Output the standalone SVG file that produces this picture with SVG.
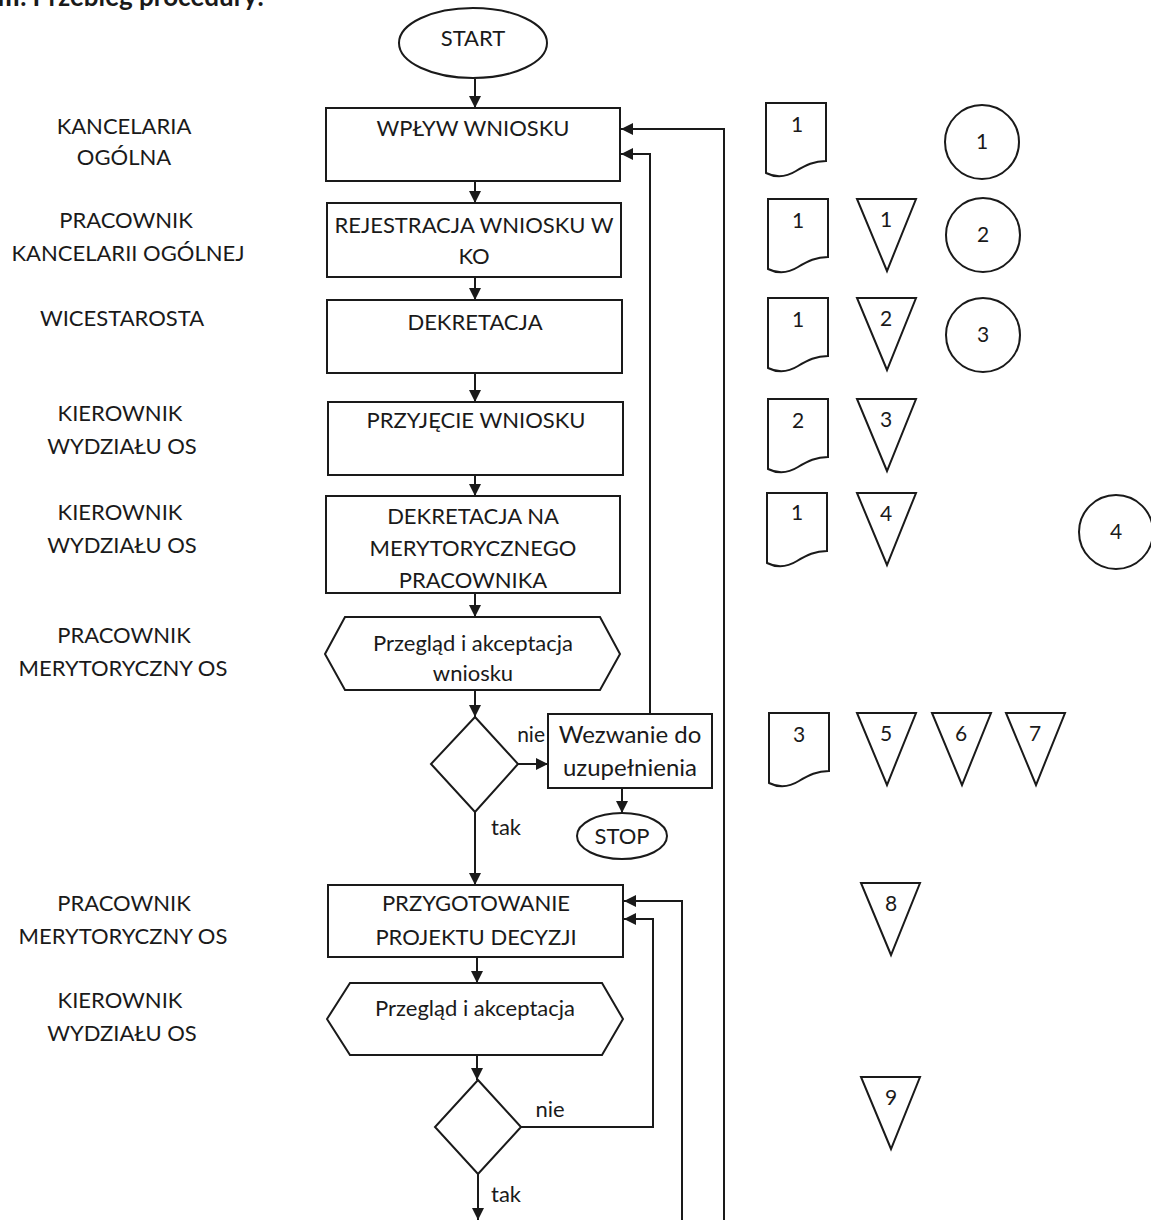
<svg xmlns="http://www.w3.org/2000/svg" width="1151" height="1220" viewBox="0 0 1151 1220">
<style>
text{font-family:Lato,"Liberation Sans",sans-serif;font-size:22px;fill:#1a1a1a;text-anchor:middle}
.s{fill:#fff;stroke:#1a1a1a;stroke-width:2}
.c{fill:none;stroke:#1a1a1a;stroke-width:2}
.w{font-size:24px}
.n{font-size:21px}
.ne{font-size:21px;text-anchor:end}
.h{font-weight:bold;font-size:26px;text-anchor:start}
</style>
<defs>
<marker id="a" markerUnits="userSpaceOnUse" markerWidth="12" markerHeight="12" viewBox="0 0 12 12" refX="12" refY="6" orient="auto">
<path d="M0,0 L12,6 L0,12 z" fill="#1a1a1a"/>
</marker>
<path id="doc" d="M0,0 H60 V58 C48,58 40,62 30,68 C22,73 12,76 0,70 Z"/>
<path id="tri" d="M0,0 H59 L30,72 Z"/>
</defs>
<rect width="1151" height="1220" fill="#fff"/>
<text class="h" x="-3" y="6">III. Przebieg procedury:</text>

<g id="lanes">
<text x="124" y="134">KANCELARIA</text>
<text x="124" y="165">OGÓLNA</text>
<text x="126" y="228">PRACOWNIK</text>
<text x="128" y="261">KANCELARII OGÓLNEJ</text>
<text x="122" y="326">WICESTAROSTA</text>
<text x="120" y="421">KIEROWNIK</text>
<text x="122" y="454">WYDZIAŁU OS</text>
<text x="120" y="520">KIEROWNIK</text>
<text x="122" y="553">WYDZIAŁU OS</text>
<text x="124" y="643">PRACOWNIK</text>
<text x="123" y="676">MERYTORYCZNY OS</text>
<text x="124" y="911">PRACOWNIK</text>
<text x="123" y="944">MERYTORYCZNY OS</text>
<text x="120" y="1008">KIEROWNIK</text>
<text x="122" y="1041">WYDZIAŁU OS</text>
</g>

<g id="connectors">
<line class="c" x1="475" y1="79" x2="475" y2="108" marker-end="url(#a)"/>
<line class="c" x1="475" y1="181" x2="475" y2="203" marker-end="url(#a)"/>
<line class="c" x1="475" y1="277" x2="475" y2="300" marker-end="url(#a)"/>
<line class="c" x1="475" y1="373" x2="475" y2="402" marker-end="url(#a)"/>
<line class="c" x1="475" y1="475" x2="475" y2="496" marker-end="url(#a)"/>
<line class="c" x1="475" y1="593" x2="475" y2="617" marker-end="url(#a)"/>
<line class="c" x1="475" y1="690" x2="475" y2="717" marker-end="url(#a)"/>
<line class="c" x1="518" y1="764" x2="548" y2="764" marker-end="url(#a)"/>
<line class="c" x1="622" y1="788" x2="622" y2="813" marker-end="url(#a)"/>
<polyline class="c" points="650,714 650,154 621,154" marker-end="url(#a)"/>
<polyline class="c" points="724,1220 724,129 621,129" marker-end="url(#a)"/>
<line class="c" x1="475" y1="812" x2="475" y2="885" marker-end="url(#a)"/>
<line class="c" x1="477" y1="957" x2="477" y2="983" marker-end="url(#a)"/>
<line class="c" x1="477" y1="1055" x2="477" y2="1080" marker-end="url(#a)"/>
<polyline class="c" points="521,1127 653,1127 653,919 624,919" marker-end="url(#a)"/>
<polyline class="c" points="682,1220 682,901 624,901" marker-end="url(#a)"/>
<line class="c" x1="478" y1="1174" x2="478" y2="1220" marker-end="url(#a)"/>
<text class="ne" x="545" y="742">nie</text>
<text x="506" y="835">tak</text>
<text x="550" y="1117">nie</text>
<text x="506" y="1202">tak</text>
</g>

<g id="start"><ellipse class="s" cx="473" cy="43" rx="74" ry="35"/><text x="473" y="46">START</text></g>
<g id="wplyw"><rect class="s" x="326" y="108" width="294" height="73"/><text x="473" y="136">WPŁYW WNIOSKU</text></g>
<g id="rejestracja"><rect class="s" x="327" y="203" width="294" height="74"/><text x="474" y="233">REJESTRACJA WNIOSKU W</text><text x="474" y="264">KO</text></g>
<g id="dekretacja"><rect class="s" x="327" y="300" width="295" height="73"/><text x="475" y="330">DEKRETACJA</text></g>
<g id="przyjecie"><rect class="s" x="328" y="402" width="295" height="73"/><text x="476" y="428">PRZYJĘCIE WNIOSKU</text></g>
<g id="dekretacja-na"><rect class="s" x="326" y="496" width="294" height="97"/><text x="473" y="524">DEKRETACJA NA</text><text x="473" y="556">MERYTORYCZNEGO</text><text x="473" y="588">PRACOWNIKA</text></g>
<g id="przeglad1"><polygon class="s" points="325,654 345,617 600,617 620,654 600,690 345,690"/><text x="473" y="651">Przegląd i akceptacja</text><text x="473" y="681">wniosku</text></g>
<g id="decyzja1"><polygon class="s" points="475,717 518,764 475,812 431,764"/></g>
<g id="wezwanie"><rect class="s" x="548" y="714" width="164" height="74"/><text class="w" x="630" y="743">Wezwanie do</text><text class="w" x="630" y="776">uzupełnienia</text></g>
<g id="stop"><ellipse class="s" cx="622" cy="836" rx="45" ry="23"/><text x="622" y="844">STOP</text></g>
<g id="przygotowanie"><rect class="s" x="328" y="885" width="295" height="72"/><text x="476" y="911">PRZYGOTOWANIE</text><text x="476" y="945">PROJEKTU DECYZJI</text></g>
<g id="przeglad2"><polygon class="s" points="327,1019 350,983 602,983 623,1019 602,1055 350,1055"/><text x="475" y="1016">Przegląd i akceptacja</text></g>
<g id="decyzja2"><polygon class="s" points="478,1080 521,1127 478,1174 435,1127"/></g>

<g id="docs">
<g id="d1" transform="translate(766,103)"><use href="#doc" class="s"/><text class="n" x="31" y="29">1</text></g>
<g id="d2" transform="translate(768,199)"><use href="#doc" class="s"/><text class="n" x="30" y="29">1</text></g>
<g id="d3" transform="translate(768,298)"><use href="#doc" class="s"/><text class="n" x="30" y="29">1</text></g>
<g id="d4" transform="translate(768,399)"><use href="#doc" class="s"/><text class="n" x="30" y="29">2</text></g>
<g id="d5" transform="translate(767,493)"><use href="#doc" class="s"/><text class="n" x="30" y="27">1</text></g>
<g id="d6" transform="translate(769,713)"><use href="#doc" class="s"/><text class="n" x="30" y="29">3</text></g>
</g>
<g id="triangles">
<g id="t1" transform="translate(857,199)"><use href="#tri" class="s"/><text class="n" x="29" y="28">1</text></g>
<g id="t2" transform="translate(857,298)"><use href="#tri" class="s"/><text class="n" x="29" y="28">2</text></g>
<g id="t3" transform="translate(857,399)"><use href="#tri" class="s"/><text class="n" x="29" y="28">3</text></g>
<g id="t4" transform="translate(857,493)"><use href="#tri" class="s"/><text class="n" x="29" y="28">4</text></g>
<g id="t5" transform="translate(857,713)"><use href="#tri" class="s"/><text class="n" x="29" y="28">5</text></g>
<g id="t6" transform="translate(932,713)"><use href="#tri" class="s"/><text class="n" x="29" y="28">6</text></g>
<g id="t7" transform="translate(1006,713)"><use href="#tri" class="s"/><text class="n" x="29" y="28">7</text></g>
<g id="t8" transform="translate(861,883)"><use href="#tri" class="s"/><text class="n" x="30" y="28">8</text></g>
<g id="t9" transform="translate(861,1077)"><use href="#tri" class="s"/><text class="n" x="30" y="28">9</text></g>
</g>
<g id="circles">
<g id="c1"><circle class="s" cx="982" cy="142" r="37"/><text class="n" x="982" y="149">1</text></g>
<g id="c2"><circle class="s" cx="983" cy="235" r="37"/><text class="n" x="983" y="242">2</text></g>
<g id="c3"><circle class="s" cx="983" cy="335" r="37"/><text class="n" x="983" y="342">3</text></g>
<g id="c4"><circle class="s" cx="1116" cy="532" r="37"/><text class="n" x="1116" y="539">4</text></g>
</g>
</svg>
